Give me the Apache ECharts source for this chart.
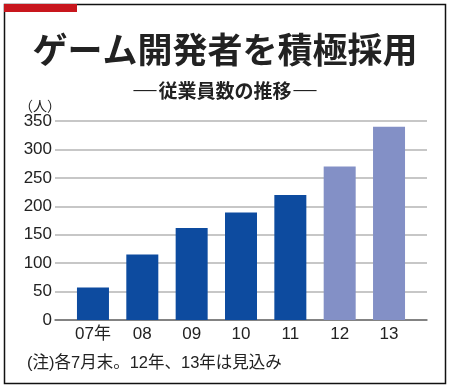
<!DOCTYPE html>
<html><head><meta charset="utf-8">
<script src="https://cdn.jsdelivr.net/npm/echarts@6/dist/echarts.min.js"></script>
<style>html,body{margin:0;padding:0;background:#fff}#c{width:450px;height:388px}</style>
</head><body><div id="c"></div>
<script>
const categories = ['07年','08','09','10','11','12','13'];
const employees = [57, 115, 162, 189, 220, 270, 340];
const isEstimate = [false, false, false, false, false, true, true];
const yTicks = [0, 50, 100, 150, 200, 250, 300, 350];

const actualColor = '#0d4b9f';
const estColor = '#8390c6';
const fontNum = "'Liberation Sans','Noto Sans CJK JP',sans-serif";

const chart = echarts.init(document.getElementById('c'));
chart.setOption({
  animation: false,
  backgroundColor: '#fff',
  title: [
    {text: 'ゲーム開発者を積極採用', left: 'center', top: 27,
     textStyle: {fontFamily: "'Noto Sans CJK JP'", fontWeight: 'bold', fontSize: 35, color: '#222'}},
    {text: '{d|―}従業員数の推移{d|―}', left: 'center', top: 72,
     textStyle: {fontFamily: "'Noto Sans CJK JP'", fontWeight: 'bold', fontSize: 19, color: '#222',
       rich: {d: {fontFamily: "'Noto Sans CJK JP'", fontSize: 27, fontWeight: 'normal', color: '#222'}}}},
    {text: '（人）', left: 14, top: 94,
     textStyle: {fontFamily: "'Noto Sans CJK JP'", fontWeight: 'normal', fontSize: 14, color: '#222'}},
    {text: '(注)各7月末。12年、13年は見込み', left: 22, top: 350,
     textStyle: {fontFamily: fontNum, fontWeight: 'normal', fontSize: 16.5, color: '#222'}}
  ],
  graphic: [
    {type: 'rect', shape: {x: 4.5, y: 4.5, width: 441, height: 379}, style: {fill: 'none', stroke: '#111', lineWidth: 1.5}, z: 10},
    {type: 'rect', shape: {x: 4, y: 4, width: 73, height: 8}, style: {fill: '#c8161d'}, z: 11}
  ],
  grid: [
    {left: 55, right: 23, top: 121, bottom: 68},
    {left: 68.3, right: 36.3, top: 121, bottom: 68}
  ],
  xAxis: [
    {type: 'category', gridIndex: 0, data: categories.map(() => ''),
     axisLine: {lineStyle: {color: '#6e6e6e', width: 1.5}}, axisTick: {show: false}, axisLabel: {show: false}},
    {type: 'category', gridIndex: 1, data: categories,
     axisLine: {show: false}, axisTick: {show: false},
     axisLabel: {fontFamily: fontNum, fontSize: 17, color: '#222', margin: 6}}
  ],
  yAxis: [
    {type: 'value', gridIndex: 0, min: yTicks[0], max: yTicks[yTicks.length - 1], interval: 50,
     axisLine: {show: false}, axisTick: {show: false},
     axisLabel: {fontFamily: fontNum, fontSize: 17, color: '#222', margin: 3},
     splitLine: {lineStyle: {color: '#b4b4b4', width: 1.5}}},
    {type: 'value', gridIndex: 1, min: yTicks[0], max: yTicks[yTicks.length - 1], interval: 50, show: false}
  ],
  series: [{
    type: 'bar', xAxisIndex: 1, yAxisIndex: 1, barWidth: 32,
    data: employees.map((v, i) => ({value: v, itemStyle: {color: isEstimate[i] ? estColor : actualColor}}))
  }]
});
</script></body></html>
